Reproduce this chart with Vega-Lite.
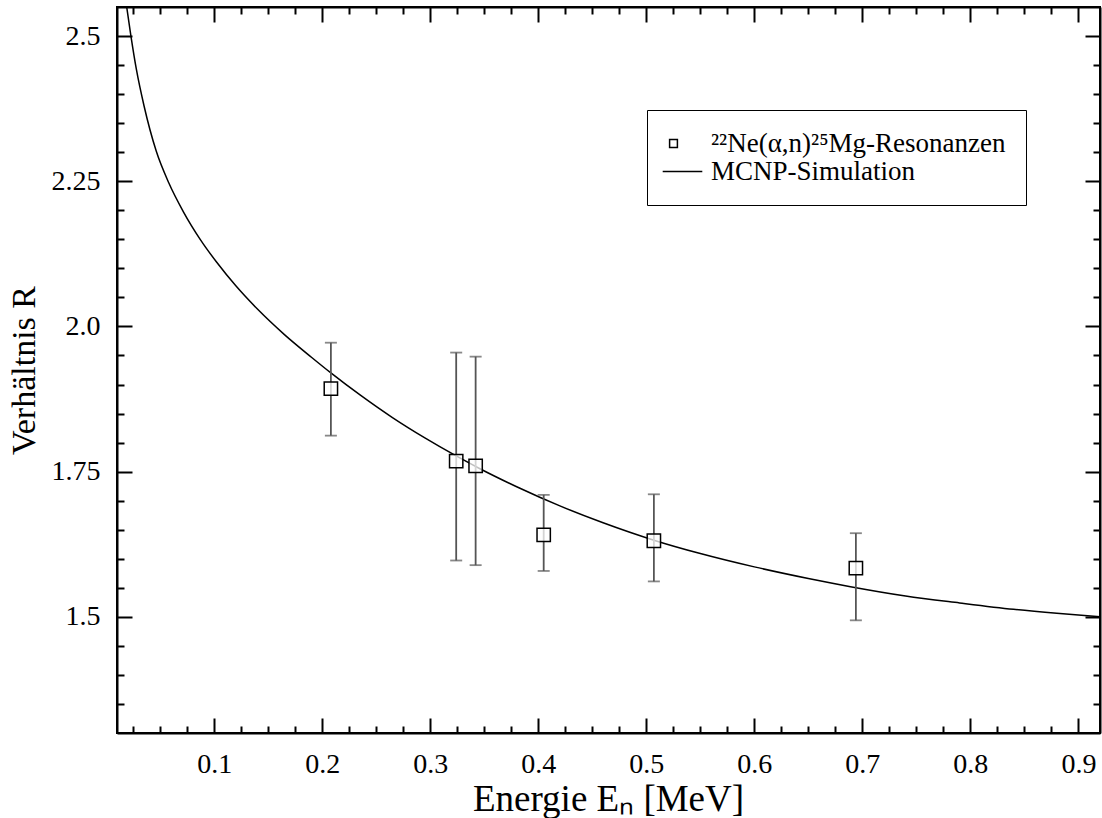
{
  "$schema": "https://vega.github.io/schema/vega-lite/v6.json",
  "width": 983,
  "height": 726,
  "autosize": {"type": "none"},
  "padding": {"left": 117, "top": 7, "right": 2, "bottom": 85},
  "background": "white",
  "config": {
    "font": "Liberation Serif",
    "view": {"stroke": "black", "strokeWidth": 2},
    "axis": {
      "grid": false,
      "domainColor": "black",
      "domainWidth": 2,
      "tickColor": "black",
      "tickWidth": 2,
      "labelFont": "Liberation Serif",
      "labelFontSize": 28,
      "labelColor": "black",
      "titleFont": "Liberation Serif",
      "titleFontWeight": "normal",
      "titleColor": "black",
      "labelPadding": 32,
      "labelOverlap": false,
      "labelFlush": false,
      "labelBound": false
    }
  },
  "datasets": {
    "curve": [
      {"E": 0.0182, "R": 2.56},
      {"E": 0.0229, "R": 2.5},
      {"E": 0.028, "R": 2.442},
      {"E": 0.035, "R": 2.38},
      {"E": 0.0463, "R": 2.302},
      {"E": 0.058, "R": 2.247},
      {"E": 0.0716, "R": 2.197},
      {"E": 0.087, "R": 2.15},
      {"E": 0.1025, "R": 2.11},
      {"E": 0.12, "R": 2.07},
      {"E": 0.14, "R": 2.03},
      {"E": 0.165, "R": 1.986},
      {"E": 0.19, "R": 1.947},
      {"E": 0.208, "R": 1.92},
      {"E": 0.235, "R": 1.882},
      {"E": 0.265, "R": 1.843},
      {"E": 0.295, "R": 1.808},
      {"E": 0.324, "R": 1.777},
      {"E": 0.346, "R": 1.755},
      {"E": 0.38, "R": 1.724},
      {"E": 0.42, "R": 1.691},
      {"E": 0.46, "R": 1.662},
      {"E": 0.507, "R": 1.632},
      {"E": 0.55, "R": 1.609},
      {"E": 0.6, "R": 1.586},
      {"E": 0.65, "R": 1.566},
      {"E": 0.689, "R": 1.552},
      {"E": 0.74, "R": 1.536},
      {"E": 0.79, "R": 1.524},
      {"E": 0.84, "R": 1.513},
      {"E": 0.88, "R": 1.506},
      {"E": 0.92, "R": 1.5}
    ],
    "points": [
      {"series": "²²Ne(α,n)²⁵Mg-Resonanzen", "E": 0.208, "R": 1.893, "lo": 1.812, "hi": 1.972},
      {"series": "²²Ne(α,n)²⁵Mg-Resonanzen", "E": 0.324, "R": 1.768, "lo": 1.597, "hi": 1.955},
      {"series": "²²Ne(α,n)²⁵Mg-Resonanzen", "E": 0.342, "R": 1.76, "lo": 1.589, "hi": 1.948},
      {"series": "²²Ne(α,n)²⁵Mg-Resonanzen", "E": 0.405, "R": 1.641, "lo": 1.579, "hi": 1.71},
      {"series": "²²Ne(α,n)²⁵Mg-Resonanzen", "E": 0.507, "R": 1.631, "lo": 1.561, "hi": 1.711},
      {"series": "²²Ne(α,n)²⁵Mg-Resonanzen", "E": 0.694, "R": 1.584, "lo": 1.494, "hi": 1.644}
    ]
  },
  "layer": [
    {
      "data": {"name": "curve"},
      "mark": {"type": "line", "color": "black", "strokeWidth": 1.5, "clip": true, "interpolate": "monotone"},
      "encoding": {
        "x": {
          "field": "E", "type": "quantitative",
          "scale": {"domain": [0.01, 0.92], "nice": false, "zero": false},
          "axis": {
            "orient": "bottom",
            "values": [0.025,0.05,0.075,0.1,0.125,0.15,0.175,0.2,0.225,0.25,0.275,0.3,0.325,0.35,0.375,0.4,0.425,0.45,0.475,0.5,0.525,0.55,0.575,0.6,0.625,0.65,0.675,0.7,0.725,0.75,0.775,0.8,0.825,0.85,0.875,0.9],
            "labelExpr": "abs(datum.value*10 - round(datum.value*10)) < 1e-6 ? format(datum.value, '.1f') : ''",
            "tickSize": {"condition": {"test": "abs(datum.value*10 - round(datum.value*10)) < 1e-6", "value": -15}, "value": -7},
            "title": "Energie Eₙ [MeV]",
            "titleFontSize": 37,
            "titleBaseline": "alphabetic",
            "titleX": 491,
            "titleY": 77
          }
        },
        "y": {
          "field": "R", "type": "quantitative",
          "scale": {"domain": [1.3, 2.55], "nice": false, "zero": false},
          "axis": {
            "orient": "left",
            "values": [1.35,1.4,1.45,1.5,1.55,1.6,1.65,1.7,1.75,1.8,1.85,1.9,1.95,2.0,2.05,2.1,2.15,2.2,2.25,2.3,2.35,2.4,2.45,2.5],
            "labelExpr": "abs(datum.value*4 - round(datum.value*4)) < 1e-6 ? (abs(datum.value*2 - round(datum.value*2)) < 1e-6 ? format(datum.value, '.1f') : format(datum.value, '.2f')) : ''",
            "tickSize": {"condition": {"test": "abs(datum.value*4 - round(datum.value*4)) < 1e-6", "value": -15}, "value": -7},
            "title": "Verhältnis R",
            "titleFontSize": 34,
            "titlePadding": 10
          }
        }
      }
    },
    {
      "data": {"name": "points"},
      "mark": {"type": "errorbar", "ticks": true, "size": 12, "thickness": 1.8, "color": "#555555"},
      "encoding": {
        "x": {"field": "E", "type": "quantitative", "axis": null},
        "y": {"field": "lo", "type": "quantitative", "axis": null},
        "y2": {"field": "hi"}
      }
    },
    {
      "data": {"name": "points"},
      "mark": {"type": "point", "filled": true, "fill": "white", "fillOpacity": 0.75, "stroke": "black", "strokeWidth": 1.5, "size": 420, "opacity": 1},
      "encoding": {
        "x": {
          "field": "E", "type": "quantitative",
          "axis": {
            "orient": "top",
            "labels": false,
            "title": null,
            "values": [0.025,0.05,0.075,0.1,0.125,0.15,0.175,0.2,0.225,0.25,0.275,0.3,0.325,0.35,0.375,0.4,0.425,0.45,0.475,0.5,0.525,0.55,0.575,0.6,0.625,0.65,0.675,0.7,0.725,0.75,0.775,0.8,0.825,0.85,0.875,0.9],
            "tickSize": {"condition": {"test": "abs(datum.value*10 - round(datum.value*10)) < 1e-6", "value": -15}, "value": -7}
          }
        },
        "y": {
          "field": "R", "type": "quantitative",
          "axis": {
            "orient": "right",
            "labels": false,
            "title": null,
            "values": [1.35,1.4,1.45,1.5,1.55,1.6,1.65,1.7,1.75,1.8,1.85,1.9,1.95,2.0,2.05,2.1,2.15,2.2,2.25,2.3,2.35,2.4,2.45,2.5],
            "tickSize": {"condition": {"test": "abs(datum.value*4 - round(datum.value*4)) < 1e-6", "value": -15}, "value": -7}
          }
        },
        "shape": {
          "field": "series", "type": "nominal",
          "scale": {
            "domain": ["²²Ne(α,n)²⁵Mg-Resonanzen", "MCNP-Simulation"],
            "range": ["M-0.65,-0.65H0.65V0.65H-0.65Z", "M-1.8,0H4.8"]
          },
          "legend": {
            "orient": "none",
            "legendX": 530,
            "legendY": 103,
            "title": null,
            "padding": 20,
            "strokeColor": "black",
            "fillColor": "white",
            "labelFont": "Liberation Serif",
            "labelFontSize": 27,
            "labelColor": "black",
            "labelLimit": 600,
            "labelOffset": 24,
            "rowPadding": 0,
            "symbolSize": 144,
            "symbolOffset": -7,
            "encode": {
              "symbols": {
                "update": {
                  "stroke": {"value": "black"},
                  "strokeWidth": {"value": 1.2},
                  "fill": {"value": "white"},
                  "fillOpacity": {"value": 1},
                  "opacity": {"value": 1}
                }
              }
            }
          }
        }
      }
    }
  ],
  "resolve": {"axis": {"x": "independent", "y": "independent"}}
}
